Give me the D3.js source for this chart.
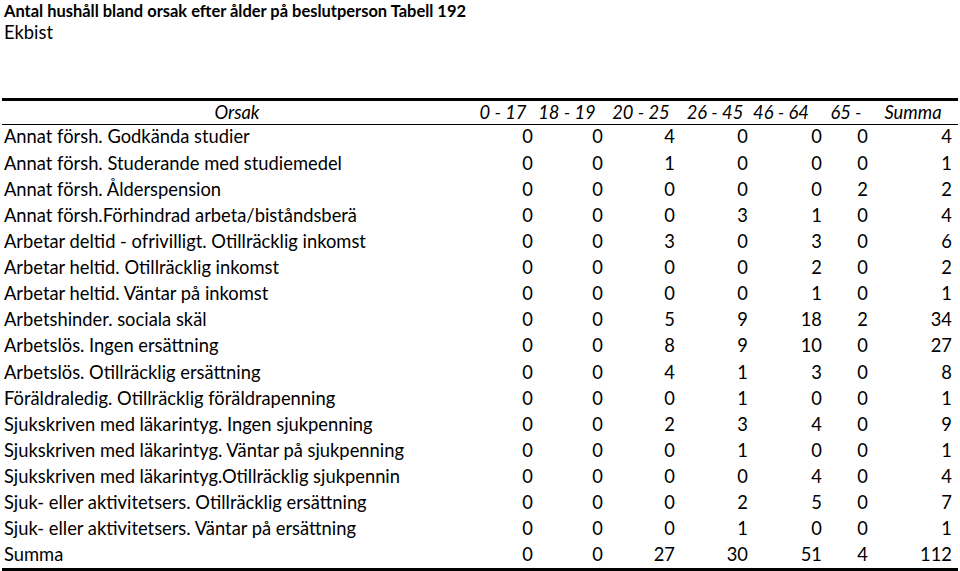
<!DOCTYPE html>
<html><head><meta charset="utf-8">
<script src="https://cdn.jsdelivr.net/npm/d3@7"></script>
<style>body{margin:0;background:#fff;}svg{display:block;}text{fill:#000;font-family:Lato,"Open Sans",sans-serif;}</style>
</head><body><svg id="c" width="960" height="571"></svg>
<script>
const title = "Antal hushåll bland orsak efter ålder på beslutperson Tabell 192";
const subtitle = "Ekbist";
const rowHeader = "Orsak";
const categories = [
 "Annat försh. Godkända studier",
 "Annat försh. Studerande med studiemedel",
 "Annat försh. Ålderspension",
 "Annat försh.Förhindrad arbeta/biståndsberä",
 "Arbetar deltid - ofrivilligt. Otillräcklig inkomst",
 "Arbetar heltid. Otillräcklig inkomst",
 "Arbetar heltid. Väntar på inkomst",
 "Arbetshinder. sociala skäl",
 "Arbetslös. Ingen ersättning",
 "Arbetslös. Otillräcklig ersättning",
 "Föräldraledig. Otillräcklig föräldrapenning",
 "Sjukskriven med läkarintyg. Ingen sjukpenning",
 "Sjukskriven med läkarintyg. Väntar på sjukpenning",
 "Sjukskriven med läkarintyg.Otillräcklig sjukpennin",
 "Sjuk- eller aktivitetsers. Otillräcklig ersättning",
 "Sjuk- eller aktivitetsers. Väntar på ersättning",
 "Summa"
];
const ageGroups = ["0 - 17","18 - 19","20 - 25","26 - 45","46 - 64","65 -","Summa"];
const v0_17  = [0,0,0,0,0,0,0,0,0,0,0,0,0,0,0,0,0];
const v18_19 = [0,0,0,0,0,0,0,0,0,0,0,0,0,0,0,0,0];
const v20_25 = [4,1,0,0,3,0,0,5,8,4,0,2,0,0,0,0,27];
const v26_45 = [0,0,0,3,0,0,0,9,9,1,1,3,1,0,2,1,30];
const v46_64 = [0,0,0,1,3,2,1,18,10,3,0,4,0,4,5,0,51];
const v65    = [0,0,2,0,0,0,0,2,0,0,0,0,0,0,0,0,4];
const vSumma = [4,1,2,4,6,2,1,34,27,8,1,9,1,4,7,1,112];
const series = [v0_17,v18_19,v20_25,v26_45,v46_64,v65,vSumma];

const svg = d3.select("#c");

// layout
const colRight = [533,603,675,748,822,868,952];
const colHeadCenter = [503,567,641,715,781,846,913];
const xCol = d3.scaleOrdinal().domain(ageGroups).range(colRight);
const xHead = d3.scaleOrdinal().domain(ageGroups).range(colHeadCenter);
const y = d3.scalePoint().domain(categories).range([137, 555]);

// font size fit
let fs = 18;
const probe = svg.append("text").attr("font-size", fs).text(categories[4]);
const w = probe.node().getComputedTextLength();
probe.remove();
fs = fs * 362 / w;

svg.append("text").attr("x",4).attr("y",17).attr("font-size",17.5).attr("font-weight","bold")
  .attr("textLength",462).attr("lengthAdjust","spacingAndGlyphs").text(title);
svg.append("text").attr("x",4).attr("y",39).attr("font-size",fs).text(subtitle);

// rules
svg.append("line").attr("x1",2).attr("x2",958).attr("y1",99.5).attr("y2",99.5).attr("stroke","#000").attr("stroke-width",3);
svg.append("line").attr("x1",2).attr("x2",958).attr("y1",124.5).attr("y2",124.5).attr("stroke","#000").attr("stroke-width",1.2);
svg.append("line").attr("x1",2).attr("x2",958).attr("y1",569.5).attr("y2",569.5).attr("stroke","#000").attr("stroke-width",3);

// header
svg.append("text").attr("x",237).attr("y",113).attr("dy","0.35em").attr("text-anchor","middle")
  .attr("font-size",fs).attr("font-style","italic").text(rowHeader);
svg.selectAll("text.hd").data(ageGroups).join("text").attr("class","hd")
  .attr("x",d=>xHead(d)).attr("y",113).attr("dy","0.35em").attr("text-anchor","middle")
  .attr("font-size",fs).attr("font-style","italic").text(d=>d);

// row labels
svg.selectAll("text.lbl").data(categories).join("text").attr("class","lbl")
  .attr("x",4).attr("y",d=>y(d)).attr("dy","0.35em").attr("font-size",fs).text(d=>d);

// cells
ageGroups.forEach((g,j)=>{
  svg.selectAll("text.c"+j).data(series[j]).join("text").attr("class","c"+j)
    .attr("x",xCol(g)).attr("y",(d,i)=>y(categories[i])).attr("dy","0.35em")
    .attr("text-anchor","end").attr("font-size",fs).text(d=>d);
});
</script></body></html>
